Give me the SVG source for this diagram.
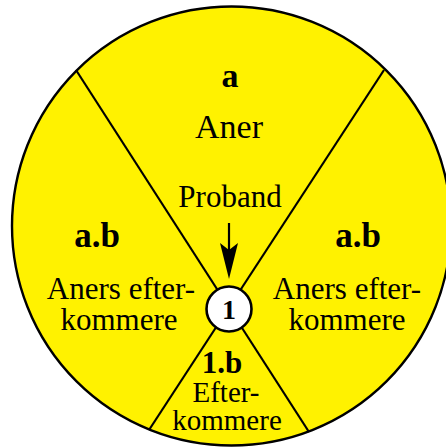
<svg xmlns="http://www.w3.org/2000/svg" width="446" height="448" viewBox="0 0 446 448">
<style>
text{font-family:"Liberation Serif","Times New Roman",serif;fill:#000;text-anchor:middle}
.b{font-weight:bold}
.t{font-size:31px}
.s{font-size:29px}
.l{stroke:#000;stroke-width:2.2;fill:none}
</style>
<rect width="446" height="448" fill="#fff"/>
<g id="wheel">
<circle cx="231.5" cy="226" r="219.5" fill="#fff200" stroke="#000" stroke-width="2.4"/>
</g>
<g id="connectors">
<line class="l" x1="76" y1="70" x2="309" y2="432"/>
<line class="l" x1="384" y1="70" x2="149" y2="430"/>
<line class="l" x1="229" y1="223" x2="229" y2="250"/>
<path d="M229,279 L220,243 L229,250 L238,243 Z" fill="#000"/>
</g>
<g id="proband-node">
<circle cx="229" cy="309" r="22.5" fill="#fff" stroke="#000" stroke-width="2.6"/>
<text class="b" x="229" y="319" font-size="28">1</text>
</g>
<g id="aner">
<text class="b" x="230" y="87" font-size="34">a</text>
<text x="229" y="138" font-size="34">Aner</text>
</g>
<g id="proband-label">
<text class="t" x="230" y="207">Proband</text>
</g>
<g id="left">
<text class="b" x="97" y="247" font-size="35">a.b</text>
<text class="t" x="121" y="299">Aners efter-</text>
<text class="t" x="119" y="330">kommere</text>
</g>
<g id="right">
<text class="b" x="358" y="247" font-size="35">a.b</text>
<text class="t" x="347" y="299">Aners efter-</text>
<text class="t" x="347" y="330">kommere</text>
</g>
<g id="bottom">
<text class="b" x="222" y="373" font-size="31">1.b</text>
<text class="s" x="226" y="402">Efter-</text>
<text class="s" x="227" y="430">kommere</text>
</g>
</svg>
